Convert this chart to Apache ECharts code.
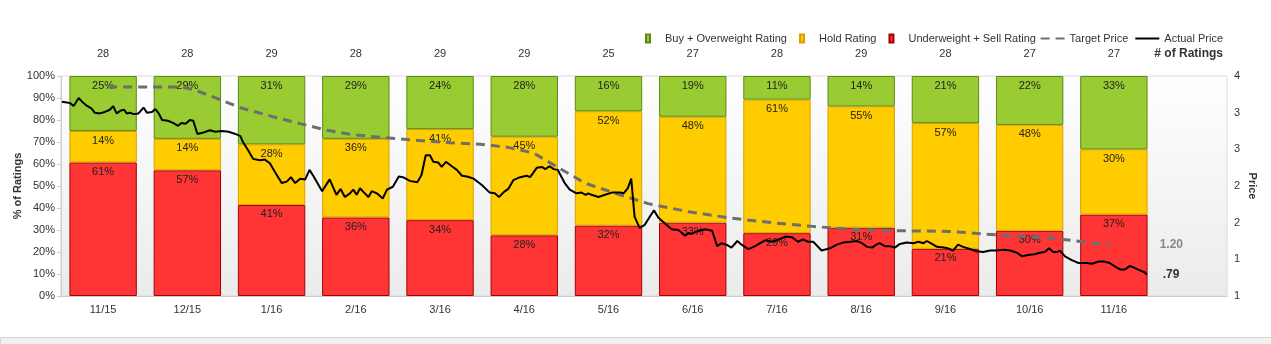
<!DOCTYPE html>
<html><head><meta charset="utf-8">
<script src="https://cdn.jsdelivr.net/npm/echarts@6/dist/echarts.min.js"></script>
<style>html,body{margin:0;padding:0;background:#fff}#c{width:1271px;height:344px}</style>
</head><body><div id="c"></div>
<script>
// ---- data ----
const categories = ['11/15','12/15','1/16','2/16','3/16','4/16','5/16','6/16','7/16','8/16','9/16','10/16','11/16'];
const ratingTotals = [28,28,29,28,29,29,25,27,28,29,28,27,27];
const sellCounts = [17,16,12,10,10,8,8,9,8,9,6,8,10];
const holdCounts = [4,4,8,10,12,13,13,13,17,16,16,13,8];
const buyCounts  = [7,8,9,8,7,8,4,5,3,4,6,6,9];
// price axis ticks 0.5..3.5 step 0.5 (labels rounded as in source)
const priceMin = 0.5, priceMax = 3.5, priceStep = 0.5;
// x of price points = months, 0 = 11/15 bar
const targetPrice = [
[0.06,3.35],[0.93,3.35],[1.09,3.31],[1.45,3.15],[1.65,3.06],[2.00,2.95],[2.34,2.85],[2.66,2.76],
[2.97,2.70],[3.33,2.66],[3.64,2.63],[4.12,2.59],[4.48,2.57],[4.79,2.53],[5.11,2.45],[5.39,2.26],
[5.72,2.04],[6.08,1.90],[6.47,1.76],[6.95,1.65],[7.46,1.56],[7.94,1.50],[8.41,1.45],[8.87,1.41],
[9.46,1.39],[10.06,1.38],[10.65,1.33],[11.24,1.29],[11.95,1.20]];
const actualPrice = [
[-0.49,3.15],[-0.43,3.14],[-0.39,3.13],[-0.35,3.09],[-0.29,3.20],[-0.25,3.15],[-0.20,3.10],[-0.14,3.06],
[-0.10,3.00],[-0.04,2.99],[0.02,3.01],[0.08,3.04],[0.12,3.09],[0.16,2.99],[0.21,3.03],[0.25,3.04],
[0.28,2.99],[0.32,3.00],[0.36,2.98],[0.42,2.99],[0.48,3.07],[0.52,3.00],[0.58,3.01],[0.62,3.05],
[0.66,2.99],[0.70,2.90],[0.77,2.89],[0.83,2.86],[0.89,2.82],[0.93,2.86],[0.98,2.85],[1.03,2.90],
[1.07,2.89],[1.12,2.71],[1.19,2.73],[1.27,2.76],[1.33,2.74],[1.41,2.75],[1.49,2.74],[1.57,2.71],
[1.63,2.68],[1.66,2.60],[1.72,2.49],[1.78,2.37],[1.86,2.35],[1.92,2.36],[1.98,2.31],[2.04,2.19],
[2.12,2.04],[2.18,2.06],[2.23,2.12],[2.28,2.04],[2.34,2.10],[2.40,2.09],[2.45,2.22],[2.50,2.13],
[2.60,1.93],[2.69,2.09],[2.77,1.88],[2.82,1.96],[2.87,1.85],[2.93,1.90],[2.97,1.95],[3.01,1.88],
[3.05,1.97],[3.09,1.92],[3.15,1.85],[3.19,1.93],[3.25,1.90],[3.32,1.83],[3.37,1.95],[3.44,1.99],
[3.51,2.13],[3.56,2.12],[3.64,2.07],[3.73,2.05],[3.78,2.15],[3.83,2.42],[3.88,2.42],[3.92,2.33],
[3.98,2.32],[4.02,2.26],[4.07,2.33],[4.14,2.27],[4.20,2.22],[4.26,2.14],[4.32,2.13],[4.40,2.10],
[4.50,2.01],[4.59,1.91],[4.65,1.90],[4.70,1.85],[4.76,1.92],[4.81,1.96],[4.87,2.08],[4.95,2.12],
[5.03,2.14],[5.07,2.12],[5.15,2.25],[5.21,2.26],[5.25,2.23],[5.30,2.27],[5.35,2.23],[5.40,2.22],
[5.42,2.17],[5.48,2.04],[5.54,1.95],[5.62,1.90],[5.68,1.91],[5.73,1.88],[5.76,1.90],[5.80,1.88],
[5.88,1.85],[5.96,1.88],[6.04,1.91],[6.14,1.91],[6.18,1.90],[6.23,1.97],[6.27,2.10],[6.31,1.58],
[6.37,1.43],[6.43,1.47],[6.49,1.58],[6.54,1.67],[6.59,1.57],[6.67,1.49],[6.75,1.41],[6.83,1.40],
[6.91,1.32],[6.95,1.36],[6.99,1.35],[7.07,1.39],[7.15,1.41],[7.23,1.39],[7.29,1.18],[7.34,1.22],
[7.40,1.20],[7.46,1.16],[7.53,1.25],[7.58,1.20],[7.66,1.14],[7.74,1.18],[7.80,1.22],[7.86,1.26],
[7.94,1.24],[8.02,1.27],[8.10,1.31],[8.18,1.30],[8.25,1.24],[8.31,1.27],[8.37,1.24],[8.43,1.24],
[8.53,1.12],[8.63,1.15],[8.71,1.20],[8.79,1.23],[8.87,1.24],[8.95,1.25],[9.01,1.22],[9.07,1.17],
[9.13,1.16],[9.18,1.20],[9.22,1.22],[9.28,1.18],[9.34,1.18],[9.40,1.16],[9.46,1.21],[9.54,1.23],
[9.62,1.22],[9.68,1.24],[9.74,1.22],[9.78,1.25],[9.84,1.21],[9.90,1.17],[9.98,1.16],[10.03,1.15],
[10.09,1.12],[10.15,1.20],[10.21,1.17],[10.29,1.14],[10.37,1.11],[10.45,1.10],[10.53,1.12],[10.61,1.12],
[10.69,1.13],[10.77,1.12],[10.85,1.09],[10.91,1.04],[10.98,1.06],[11.06,1.07],[11.12,1.09],[11.18,1.10],
[11.23,1.15],[11.28,1.10],[11.33,1.10],[11.36,1.12],[11.42,1.04],[11.50,0.99],[11.58,0.95],[11.68,0.95],
[11.74,0.94],[11.82,0.97],[11.88,0.97],[11.95,0.95],[12.03,0.89],[12.08,0.86],[12.13,0.86],[12.19,0.91],
[12.25,0.88],[12.31,0.85],[12.37,0.82],[12.39,0.79]];

// ---- derived ----
const pct = arr => arr.map((v, i) => v / ratingTotals[i] * 100);
const FONT = "'Liberation Sans', Arial, sans-serif";
const fmtPrice = v => { const s = v.toFixed(2); return s.startsWith('0') ? s.slice(1) : s; };

const chart = echarts.init(document.getElementById('c'), null, {renderer: 'canvas'});
const barLabel = {
  show: true, position: 'insideTop', distance: 4, color: '#222', fontSize: 11, fontFamily: FONT,
  formatter: p => Math.round(p.value) + '%'
};
const barIcon = 'path://M0,0L4,0L4,8L0,8Z M14,8';

chart.setOption({
  animation: false,
  textStyle: {fontFamily: FONT},
  grid: [
    {left: 61, right: 115, top: 76, bottom: 48, containLabel: false, outerBoundsMode: 'none'},
    {left: 61, right: 44, top: 76, bottom: 48, containLabel: false, outerBoundsMode: 'none',
     show: true, borderColor: '#d9d9d9', borderWidth: 1,
     backgroundColor: new echarts.graphic.LinearGradient(0, 0, 0, 1, [
       {offset: 0, color: '#ffffff'}, {offset: 1, color: '#ebebeb'}])}
  ],
  legend: [
    {left: 640, top: 28, itemWidth: 14, itemHeight: 8, itemGap: 12, icon: barIcon,
     textStyle: {fontSize: 11, color: '#333', fontFamily: FONT},
     data: ['Buy + Overweight Rating', 'Hold Rating', 'Underweight + Sell Rating']},
    {right: 43, top: 28, itemWidth: 24, itemHeight: 8, itemGap: 6,
     itemStyle: {opacity: 0},
     textStyle: {fontSize: 11, color: '#333', fontFamily: FONT},
     data: ['Target Price', 'Actual Price']}
  ],
  xAxis: [
    {type: 'category', gridIndex: 0, data: categories,
     axisLine: {show: false}, axisTick: {show: false},
     axisLabel: {margin: 8, fontSize: 11, color: '#333', fontFamily: FONT}},
    {type: 'value', gridIndex: 1, min: -0.5, max: 13.343,
     axisLine: {show: true, lineStyle: {color: '#cccccc'}}, axisTick: {show: false},
     axisLabel: {show: false}, splitLine: {show: false}},
    {type: 'category', gridIndex: 0, position: 'top', data: ratingTotals.map(String),
     axisLine: {show: false}, axisTick: {show: false},
     axisLabel: {margin: 17, fontSize: 11, color: '#333', fontFamily: FONT}}
  ],
  yAxis: [
    {type: 'value', gridIndex: 0, min: 0, max: 100, interval: 10, position: 'left',
     name: '% of Ratings', nameLocation: 'middle', nameGap: 38, nameRotate: 90, nameMoveOverlap: false,
     nameTextStyle: {fontSize: 11, fontWeight: 'bold', color: '#333', fontFamily: FONT},
     axisLine: {show: true, lineStyle: {color: '#cccccc'}},
     axisTick: {show: true, length: 4, lineStyle: {color: '#cccccc'}},
     axisLabel: {formatter: '{value}%', margin: 6, fontSize: 11, color: '#333', fontFamily: FONT},
     splitLine: {show: false}},
    {type: 'value', gridIndex: 1, min: priceMin, max: priceMax, interval: priceStep, position: 'right',
     name: 'Price', nameLocation: 'middle', nameGap: 20, nameRotate: -90, nameMoveOverlap: false,
     nameTextStyle: {fontSize: 11, fontWeight: 'bold', color: '#333', fontFamily: FONT},
     axisLine: {show: true, lineStyle: {color: '#cccccc'}},
     axisTick: {show: true, length: 4, lineStyle: {color: '#cccccc'}},
     axisLabel: {formatter: v => String(Math.round(v)), margin: 7, fontSize: 11, color: '#333', fontFamily: FONT},
     splitLine: {show: false}}
  ],
  series: [
    {name: 'Underweight + Sell Rating', type: 'bar', stack: 'r', xAxisIndex: 0, yAxisIndex: 0,
     barWidth: '80%', data: pct(sellCounts),
     itemStyle: {color: '#ff3535', borderColor: '#a30000', borderWidth: 1}, label: barLabel},
    {name: 'Hold Rating', type: 'bar', stack: 'r', xAxisIndex: 0, yAxisIndex: 0,
     barWidth: '80%', data: pct(holdCounts),
     itemStyle: {color: '#ffcc00', borderColor: '#d9a000', borderWidth: 1}, label: barLabel},
    {name: 'Buy + Overweight Rating', type: 'bar', stack: 'r', xAxisIndex: 0, yAxisIndex: 0,
     barWidth: '80%', data: pct(buyCounts),
     itemStyle: {color: '#99cc33', borderColor: '#5e8a16', borderWidth: 1}, label: barLabel},
    {name: 'Target Price', type: 'line', xAxisIndex: 1, yAxisIndex: 1, data: targetPrice,
     symbol: 'none', z: 5,
     lineStyle: {color: '#6e6e6e', width: 3, type: [9, 6]}, itemStyle: {color: '#6e6e6e'},
     endLabel: {show: true, distance: 50, formatter: p => fmtPrice(p.value[1]),
       color: '#888', fontSize: 12, fontWeight: 'bold', fontFamily: FONT}},
    {name: 'Actual Price', type: 'line', xAxisIndex: 1, yAxisIndex: 1, data: actualPrice,
     symbol: 'none', z: 6,
     lineStyle: {color: '#000', width: 2}, itemStyle: {color: '#000'},
     endLabel: {show: true, distance: 16, formatter: p => fmtPrice(p.value[1]),
       color: '#333', fontSize: 12, fontWeight: 'bold', fontFamily: FONT}}
  ],
  graphic: [
    {type: 'text', right: 48, top: 48,
     style: {text: '# of Ratings', fontSize: 12, fontWeight: 'bold', fill: '#333', fontFamily: FONT}},
    {type: 'rect', left: 0, top: 337, shape: {width: 1271, height: 7},
     style: {fill: '#f0f0f0', stroke: '#d6d6d6', lineWidth: 1}}
  ]
});
</script></body></html>
